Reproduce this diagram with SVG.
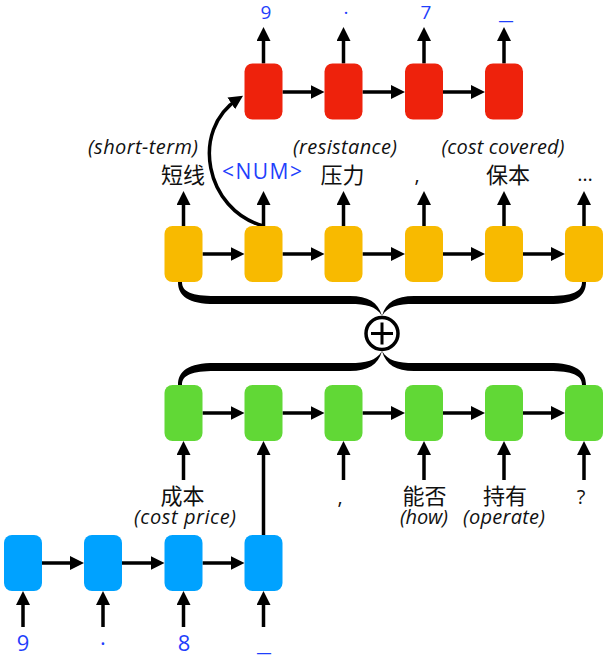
<svg xmlns="http://www.w3.org/2000/svg" width="606" height="660" viewBox="0 0 606 660">
<style>
.r{fill:#EE220C}.y{fill:#F8BA00}.g{fill:#61D836}.b{fill:#00A2FF}
.a{stroke:#000;stroke-width:3.5;fill:none;marker-end:url(#ah)}
text{font-family:"Open Sans","Noto Sans CJK SC",sans-serif;fill:#111;text-anchor:middle}
.n{fill:#1f3ffc;font-size:19px}
.nb{fill:#1f3ffc;font-size:22px}
.zh{font-size:22px;font-family:"Noto Sans CJK SC",sans-serif}
.it{font-style:italic;font-size:20px}
.p{font-size:20px}
</style>
<defs>
<marker id="ah" markerUnits="userSpaceOnUse" markerWidth="14" markerHeight="14" refX="8" refY="7" orient="auto"><path d="M0,0L14,7L0,14z" fill="#000"/></marker>
<path id="br" d="M182,282 C182,292 192,296 215,296 L350,296 C368,296 378,302 382,316 C376,306 366,304 350,304 L215,304 C188,304 178,296 178,282 Z" fill="#000"/>
</defs>

<g id="connectors">
<path class="a" d="M282.5,92H318.5"/><path class="a" d="M362.5,92H399"/><path class="a" d="M443,92H479"/>
<path class="a" d="M263.5,63.5V33"/><path class="a" d="M343.5,63.5V33"/><path class="a" d="M424,63.5V33"/><path class="a" d="M504,63.5V33"/>
<path class="a" d="M202.5,254H238.5"/><path class="a" d="M282.5,254H318.5"/><path class="a" d="M362.5,254H399"/><path class="a" d="M443,254H479"/><path class="a" d="M523,254H559"/>
<path class="a" d="M183.5,226V197"/><path class="a" d="M263.5,226V197"/><path class="a" d="M343.5,226V197"/><path class="a" d="M424,226V197"/><path class="a" d="M504,226V197"/><path class="a" d="M584,226V197"/>
<path class="a" d="M263.5,226C205,210 190,130 238,99"/>
<use href="#br"/>
<use href="#br" transform="matrix(-1 0 0 1 764 0)"/>
<use href="#br" transform="matrix(1 0 0 -1 0 667)"/>
<use href="#br" transform="matrix(-1 0 0 -1 764 667)"/>
<path class="a" d="M202.5,413H238.5"/><path class="a" d="M282.5,413H318.5"/><path class="a" d="M362.5,413H399"/><path class="a" d="M443,413H479"/><path class="a" d="M523,413H559"/>
<path class="a" d="M183.5,480V447"/><path class="a" d="M263.5,535V447"/><path class="a" d="M343.5,480V447"/><path class="a" d="M424,480V447"/><path class="a" d="M504,480V447"/><path class="a" d="M584,480V447"/>
<path class="a" d="M42,563H78"/><path class="a" d="M122,563H158.5"/><path class="a" d="M202.5,563H238.5"/>
<path class="a" d="M23,627V597"/><path class="a" d="M103,627V597"/><path class="a" d="M183.5,627V597"/><path class="a" d="M263.5,627V597"/>
</g>

<g id="sum">
<circle cx="382" cy="333.5" r="16" fill="#fff" stroke="#000" stroke-width="3.5"/>
<path d="M371,333.5H393M382,322.5V344.5" stroke="#000" stroke-width="3"/>
</g>

<g id="red">
<rect id="r1" class="r" x="244.5" y="63.5" width="38" height="56" rx="8"/>
<rect id="r2" class="r" x="324.5" y="63.5" width="38" height="56" rx="8"/>
<rect id="r3" class="r" x="405" y="63.5" width="38" height="56" rx="8"/>
<rect id="r4" class="r" x="485" y="63.5" width="38" height="56" rx="8"/>
</g>
<g id="yellow">
<rect id="y1" class="y" x="164.5" y="226" width="38" height="56" rx="8"/>
<rect id="y2" class="y" x="244.5" y="226" width="38" height="56" rx="8"/>
<rect id="y3" class="y" x="324.5" y="226" width="38" height="56" rx="8"/>
<rect id="y4" class="y" x="405" y="226" width="38" height="56" rx="8"/>
<rect id="y5" class="y" x="485" y="226" width="38" height="56" rx="8"/>
<rect id="y6" class="y" x="565" y="226" width="38" height="56" rx="8"/>
</g>
<g id="green">
<rect id="g1" class="g" x="164.5" y="385" width="38" height="56" rx="8"/>
<rect id="g2" class="g" x="244.5" y="385" width="38" height="56" rx="8"/>
<rect id="g3" class="g" x="324.5" y="385" width="38" height="56" rx="8"/>
<rect id="g4" class="g" x="405" y="385" width="38" height="56" rx="8"/>
<rect id="g5" class="g" x="485" y="385" width="38" height="56" rx="8"/>
<rect id="g6" class="g" x="565" y="385" width="38" height="56" rx="8"/>
</g>
<g id="blue">
<rect id="b1" class="b" x="4" y="535" width="38" height="56" rx="8"/>
<rect id="b2" class="b" x="84" y="535" width="38" height="56" rx="8"/>
<rect id="b3" class="b" x="164.5" y="535" width="38" height="56" rx="8"/>
<rect id="b4" class="b" x="244.5" y="535" width="38" height="56" rx="8"/>
</g>

<g id="labels-top">
<text class="n" x="266" y="19">9</text>
<text class="n" x="346" y="19">·</text>
<text class="n" x="426" y="19">7</text>
<text class="n" x="506" y="19" textLength="14" lengthAdjust="spacingAndGlyphs">_</text>
</g>
<g id="labels-yellow">
<text class="it" x="143" y="154" textLength="110">(short-term)</text>
<text class="zh" x="183" y="183">短线</text>
<text class="n" x="262" y="179" style="font-size:21px" textLength="80">&lt;NUM&gt;</text>
<text class="it" x="345" y="154" textLength="104">(resistance)</text>
<text class="zh" x="342.5" y="183">压力</text>
<text class="p" x="417" y="182">,</text>
<text class="it" x="503" y="154" textLength="123">(cost covered)</text>
<text class="zh" x="508" y="183">保本</text>
<text class="p" x="585" y="181" textLength="20">…</text>
</g>
<g id="labels-green">
<text class="zh" x="182.5" y="504">成本</text>
<text class="it" x="185" y="524" textLength="102">(cost price)</text>
<text class="p" x="340" y="504">,</text>
<text class="zh" x="424.5" y="504">能否</text>
<text class="it" x="424" y="524" textLength="48">(how)</text>
<text class="zh" x="505" y="504">持有</text>
<text class="it" x="504" y="524" textLength="82">(operate)</text>
<text class="p" x="581" y="504">?</text>
</g>
<g id="labels-blue">
<text class="nb" x="23" y="651">9</text>
<text class="nb" x="103" y="651">·</text>
<text class="nb" x="184" y="651">8</text>
<text class="nb" x="264" y="651" textLength="14" lengthAdjust="spacingAndGlyphs">_</text>
</g>
</svg>
